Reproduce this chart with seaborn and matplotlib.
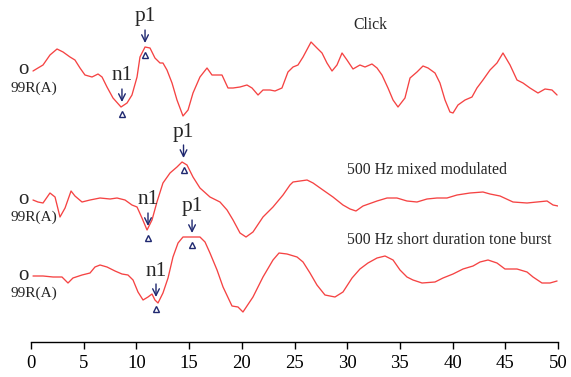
import numpy as np
import pandas as pd
import matplotlib
matplotlib.use("Agg")
import matplotlib.pyplot as plt
import seaborn as sns

# ---------------- data (latency in ms, amplitude in arbitrary units) ----------------
click_t = [0.19, 0.66, 1.14, 1.80, 2.47, 3.04, 3.70, 4.17, 4.65, 5.12, 5.79, 6.36, 6.74, 7.21,
           7.78, 8.54, 9.11, 9.58, 10.06, 10.34, 10.82, 11.29, 11.76, 12.24, 12.52, 12.90, 13.38,
           13.85, 14.42, 14.90, 15.37, 16.03, 16.70, 17.17, 18.12, 18.69, 19.17, 19.83, 20.49,
           20.97, 21.54, 22.01, 22.68, 23.15, 23.81, 24.38, 24.86, 25.33, 25.81, 26.57, 27.13,
           27.61, 28.08, 28.56, 29.03, 29.51, 29.98, 30.55, 31.21, 31.69, 32.35, 32.83, 33.30,
           33.87, 34.35, 34.82, 35.48, 35.96, 36.62, 37.19, 37.67, 38.33, 38.80, 39.28, 39.75,
           40.04, 40.51, 41.18, 41.84, 42.31, 42.88, 43.55, 44.21, 44.78, 45.45, 46.11, 46.68,
           47.34, 48.10, 48.77, 49.43, 49.91]
click_a = [0, 3, 6, 16, 22, 19, 14, 11, 3, -4, -6, -3, -6, -16,
           -27, -36, -32, -24, -6, 14, 24, 23, 13, 8, 8, 1, -12,
           -29, -45, -39, -22, -6, 3, -4, -4, -17, -17, -16, -14,
           -17, -24, -19, -19, -20, -17, -1, 4, 6, 14, 29, 23,
           18, 8, 0, 6, 18, 11, 2, 6, 4, 7, 3, -4,
           -17, -29, -36, -27, -7, -1, 5, 3, -2, -12, -29, -41,
           -42, -34, -29, -26, -17, -9, 1, 8, 18, 6, -9, -12,
           -17, -22, -18, -19, -24]

mixed_t = [0.19, 0.66, 1.14, 1.80, 2.28, 2.75, 3.23, 3.80, 4.17, 4.84, 5.60, 6.55, 7.50, 8.16,
           8.92, 9.58, 10.06, 10.53, 11.01, 11.48, 11.95, 12.52, 13.19, 13.85, 14.33, 14.80,
           15.37, 16.03, 16.98, 17.93, 18.60, 19.17, 19.83, 20.40, 21.06, 22.01, 22.96, 23.91,
           24.57, 24.86, 26.19, 26.76, 27.70, 28.65, 29.60, 30.27, 30.83, 31.50, 32.83, 33.78,
           34.72, 35.67, 36.62, 37.57, 38.52, 39.47, 40.42, 41.65, 42.88, 43.55, 44.50, 45.73,
           47.06, 48.01, 48.96, 49.53, 50.00]
mixed_a = [0, -2, -3, 7, 3, -17, -8, 9, 4, -2, 0, 2, 1, 2,
           0, -5, -7, -18, -30, -20, -2, 17, 27, 33, 38, 35,
           23, 12, 3, -2, -10, -20, -33, -37, -32, -17, -7, 5,
           15, 18, 20, 17, 10, 3, -5, -9, -11, -6, -1, 2,
           2, -1, -2, 1, 2, 2, 5, 7, 8, 6, 4, -2,
           -3, -2, -1, -5, -6]

tone_t = [0.19, 1.14, 2.09, 2.94, 3.51, 3.98, 4.84, 5.60, 6.07, 6.55, 7.21, 7.97, 8.63, 9.20,
          9.68, 10.15, 10.63, 11.10, 11.48, 11.76, 12.05, 12.52, 13.00, 13.47, 13.95, 14.42,
          16.03, 16.51, 16.98, 17.65, 18.22, 19.07, 19.64, 20.11, 21.06, 22.01, 22.96, 23.53,
          24.29, 25.24, 25.81, 26.47, 27.13, 27.89, 28.84, 29.60, 30.46, 31.21, 31.97, 32.83,
          33.59, 34.35, 35.01, 35.67, 36.24, 37.10, 38.33, 39.09, 40.04, 40.99, 41.94, 42.60,
          43.36, 44.21, 44.97, 46.11, 47.06, 47.63, 48.48, 49.24, 49.91]
tone_a = [0, 0, -1, -1, -7, -2, 1, 3, 9, 11, 9, 5, 2, 1,
          -4, -16, -24, -21, -18, -24, -27, -17, -2, 19, 33, 39,
          39, 34, 23, 6, -11, -30, -31, -36, -21, -1, 16, 23,
          22, 19, 14, 3, -9, -19, -21, -16, -2, 7, 13, 18,
          20, 16, 6, -1, -4, -7, -6, -2, 2, 7, 10, 14,
          16, 13, 7, 7, 4, -1, -7, -7, -5]

trace_names = ["Click", "500 Hz mixed modulated", "500 Hz short duration tone burst"]
peak_labels = ["n1", "p1"]
click_peak_t = [8.63, 10.82]
click_peak_a = [-35, 24]
mixed_peak_t = [11.10, 14.47]
mixed_peak_a = [-30, 38]
tone_peak_t = [11.86, 15.28]
tone_peak_a = [-25, 39]
x_ticks = [0, 5, 10, 15, 20, 25, 30, 35, 40, 45, 50]

# ---------------- layout constants ----------------
offsets = [-71, -200, -276]
name_pos = [(32.2, -25), (37.6, -170), (39.7, -240)]
line_color = "#f54343"
ann_color = "#1f2870"

sns.set_theme(style="ticks")
plt.rcParams["font.family"] = ["Liberation Serif", "DejaVu Serif"]

fig = plt.figure(figsize=(5.71, 3.77), dpi=100)
ax = fig.add_axes([31 / 571, 35 / 377, 527 / 571, 342 / 377])

series = [(click_t, click_a), (mixed_t, mixed_a), (tone_t, tone_a)]
peaks = [(click_peak_t, click_peak_a), (mixed_peak_t, mixed_peak_a), (tone_peak_t, tone_peak_a)]

for (t, a), off, (pt, pa), name, npos in zip(series, offsets, peaks, trace_names, name_pos):
    df = pd.DataFrame({"t": t, "y": np.array(a) + off})
    sns.lineplot(data=df, x="t", y="y", ax=ax, color=line_color, lw=0.95,
                 estimator=None, sort=False)
    # left labels
    ax.text(-0.76, off + 1, "o", fontsize=15, ha="center", va="center", clip_on=False)
    ax.text(0.28, off - 17, "99R(A)", fontsize=11, ha="center", va="center", clip_on=False)
    ax.text(npos[0], npos[1], name, fontsize=11.3, ha="center", va="center")
    for lab, x, amp in zip(peak_labels, pt, pa):
        y = amp + off
        ax.annotate("", xy=(x, y + 4), xytext=(x, y + 17),
                    arrowprops=dict(arrowstyle="->", color=ann_color, lw=1.0,
                                    mutation_scale=12, shrinkA=0, shrinkB=0))
        ax.text(x, y + 30, lab, fontsize=15.5, ha="center", va="center")
        ax.plot([x], [y - 8], marker="^", ms=4, mfc="white", mec=ann_color, mew=1.0)

ax.set_xlim(0, 50)
ax.set_ylim(-342, 0)
ax.set_xticks(x_ticks)
ax.set_yticks([])
ax.set_xlabel("")
ax.set_ylabel("")
for s in ["left", "right", "top"]:
    ax.spines[s].set_visible(False)
ax.spines["bottom"].set_color("black")
ax.spines["bottom"].set_linewidth(1.0)
ax.tick_params(axis="x", direction="out", length=5, width=1, labelsize=13.5, colors="black", pad=4)
ax.patch.set_alpha(0)

fig.savefig("out.png", dpi=100)
